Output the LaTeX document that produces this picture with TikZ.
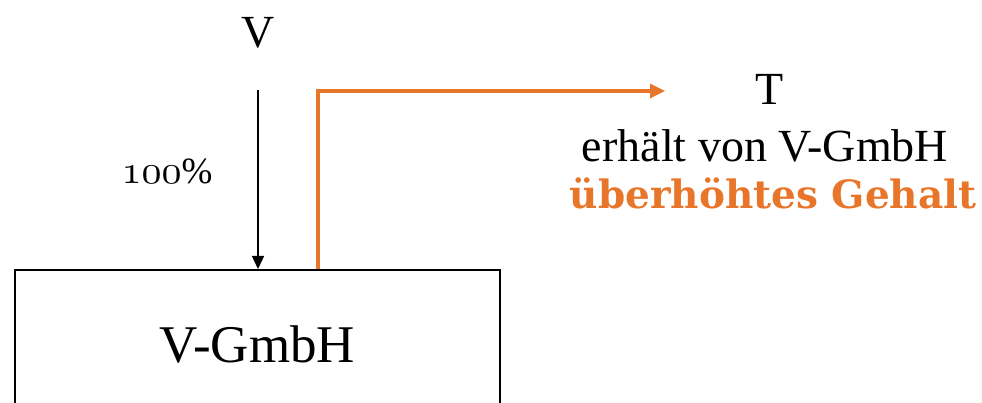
\documentclass[tikz,border=0pt]{standalone}
\usepackage{fontspec}
\usepackage{graphicx}
\setmainfont{Liberation Serif}
\newfontfamily\boldserif{DejaVu Serif}
\newcommand{\osnum}[1]{\scalebox{4}{\fontsize{10}{12}\usefont{OML}{cmm}{m}{it}#1}}
\definecolor{orng}{RGB}{232,118,42}
\usetikzlibrary{arrows.meta}
\tikzset{
  lbl/.style={inner sep=0pt, anchor=center},
  blackarrow/.style={line width=1.5pt, -{Triangle[length=13pt,width=12pt]}},
  orangearrow/.style={line width=3.2pt, orng, -{Triangle[length=15pt,width=14pt]}},
  boxstyle/.style={draw, line width=2pt, minimum width=485pt, minimum height=150pt, inner sep=0pt, font=\fontsize{53}{60}\selectfont}
}
\begin{document}
\begin{tikzpicture}[x=1pt,y=1pt]
\useasboundingbox (0,0) rectangle (982,403);
\clip (0,0) rectangle (982,403);
\node[boxstyle] (box) at (257.5,58) {V-GmbH};
\node[lbl, font=\fontsize{46}{52}\selectfont] (V) at (258,370) {V};
\node[lbl, font=\fontsize{37}{42}\selectfont] (pct) at (167,232) {\osnum{100}\%};
\node[lbl, font=\fontsize{46}{52}\selectfont] (T) at (770,314) {T};
\node[lbl, font=\fontsize{46}{52}\selectfont] (erh) at (765,257) {erhält von V-GmbH};
\node[lbl, font=\boldserif\fontsize{39}{46}\selectfont\bfseries, text=orng] (geh) at (773,210) {überhöhtes Gehalt};
\coordinate (vstart) at (258,313);
\coordinate (ostart) at (318,131);
\coordinate (oend) at (665,312);
\draw[blackarrow] (vstart) -- (vstart |- box.north);
\draw[orangearrow] (ostart |- box.north) |- (oend);
\end{tikzpicture}
\end{document}
